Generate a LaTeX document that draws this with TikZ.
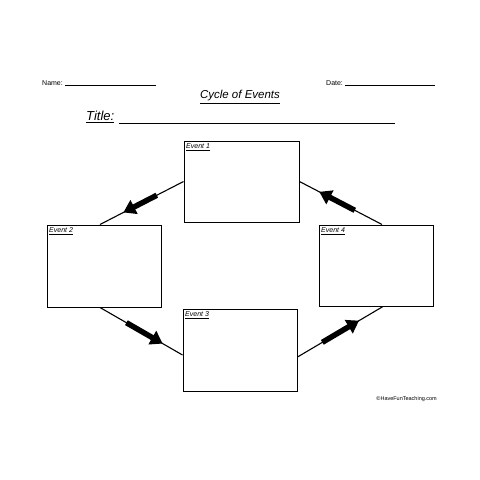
\documentclass[tikz,border=0pt]{standalone}
\usepackage{fontspec}
\setmainfont{Liberation Sans}
\usetikzlibrary{arrows.meta,calc}
\begin{document}
\begin{tikzpicture}[x=1pt,y=-1pt,
  evbox/.style={draw,line width=1pt,rectangle,inner sep=0pt},
  evlabel/.style={anchor=north west,inner sep=0pt,font=\fontsize{7}{8}\selectfont\itshape},
  conn/.style={line width=1.1pt},
  bigarrow/.style={line width=5.5pt,-{Triangle[length=12pt,width=15pt]}},
  small/.style={font=\fontsize{7}{8}\selectfont,inner sep=0pt}]
\useasboundingbox[fill=white] (0,0) rectangle (480,480);
% header
\node[small,anchor=west] (nm) at (42,83) {Name:};
\coordinate (n1) at (65,85); \coordinate (n2) at (156,85);
\draw[line width=0.6pt] (n1) -- (n2);
\node[small,anchor=west] (dt) at (326,83) {Date:};
\coordinate (d1) at (345,85); \coordinate (d2) at (435,85);
\draw[line width=0.6pt] (d1) -- (d2);
\node[font=\fontsize{11.5}{12}\selectfont\itshape,inner sep=0pt] (ce) at (240,97) {\underline{Cycle of Events}};
\node[font=\fontsize{13}{14}\selectfont\itshape,inner sep=0pt,anchor=west] (tt) at (86,117) {\underline{Title:}};
\coordinate (t1) at (119,123); \coordinate (t2) at (395,123);
\draw[line width=1pt] (t1) -- (t2);
% boxes
\node[evbox,minimum width=115pt,minimum height=81pt] (e1) at (241.5,181.5) {};
\node[evbox,minimum width=114pt,minimum height=82pt] (e2) at (104,266) {};
\node[evbox,minimum width=114pt,minimum height=82pt] (e3) at (240,350) {};
\node[evbox,minimum width=114pt,minimum height=81pt] (e4) at (376,265.5) {};
\node[evlabel] (l1) at ($(e1.north west)+(2.5,3)$) {\underline{Event 1}};
\node[evlabel] (l2) at ($(e2.north west)+(2.5,3)$) {\underline{Event 2}};
\node[evlabel] (l3) at ($(e3.north west)+(2.5,3)$) {\underline{Event 3}};
\node[evlabel] (l4) at ($(e4.north west)+(2.5,3)$) {\underline{Event 4}};
% connectors
\draw[conn] (e1.west) -- ($(e2.north)+(-4,0)$);
\draw[bigarrow] ($(e1.west)!0.32!($(e2.north)+(-4,0)$)$) -- ($(e1.west)!0.72!($(e2.north)+(-4,0)$)$);
\draw[conn] ($(e2.south)+(-4,0)$) -- ($(e3.west)+(0,5)$);
\draw[bigarrow] ($($(e2.south)+(-4,0)$)!0.32!($(e3.west)+(0,5)$)$) -- ($($(e2.south)+(-4,0)$)!0.76!($(e3.west)+(0,5)$)$);
\draw[conn] ($(e3.east)+(0,7)$) -- ($(e4.south)+(7,0)$);
\draw[bigarrow] ($($(e3.east)+(0,7)$)!0.29!($(e4.south)+(7,0)$)$) -- ($($(e3.east)+(0,7)$)!0.72!($(e4.south)+(7,0)$)$);
\draw[conn] ($(e4.north)+(6,0)$) -- (e1.east);
\draw[bigarrow] ($($(e4.north)+(6,0)$)!0.33!(e1.east)$) -- ($($(e4.north)+(6,0)$)!0.76!(e1.east)$);
% footer
\node[font=\fontsize{5.5}{6}\selectfont,inner sep=0pt,anchor=east] (cp) at (437,399) {\textcopyright HaveFunTeaching.com};
\end{tikzpicture}
\end{document}
